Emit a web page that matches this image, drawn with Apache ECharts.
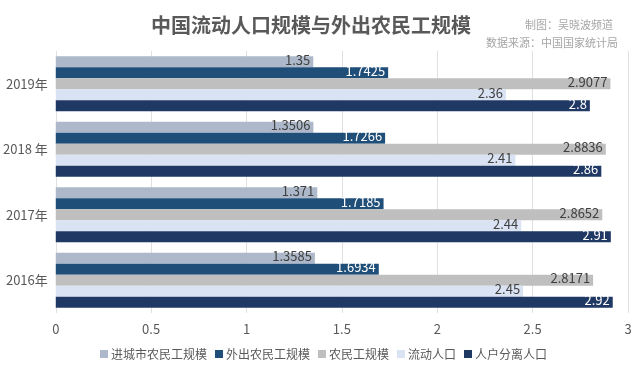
<!DOCTYPE html>
<html>
<head>
<meta charset="utf-8">
<script src="https://cdn.jsdelivr.net/npm/echarts@6/dist/echarts.min.js"></script>
<style>html,body{margin:0;padding:0;background:#fff;}#c{width:640px;height:373px;}</style>
</head>
<body>
<div id="c"></div>
<script>
const categories = ['2016年', '2017年', '2018 年', '2019年'];
const seriesNames = ['进城市农民工规模', '外出农民工规模', '农民工规模', '流动人口', '人户分离人口'];
const urbanMigrant = [1.3585, 1.371, 1.3506, 1.35];
const outMigrant = [1.6934, 1.7185, 1.7266, 1.7425];
const migrantWorkers = [2.8171, 2.8652, 2.8836, 2.9077];
const floatingPop = [2.45, 2.44, 2.41, 2.36];
const separatedPop = [2.92, 2.91, 2.86, 2.8];
const xTicks = [0, 0.5, 1, 1.5, 2, 2.5, 3];

const dataSets = [urbanMigrant, outMigrant, migrantWorkers, floatingPop, separatedPop];
const colors = ['#adb9ca', '#1f4e79', '#bfbfbf', '#dae3f3', '#203864'];
const labelColors = ['#404040', '#ffffff', '#404040', '#404040', '#ffffff'];
const fontFam = '"Noto Sans CJK SC", "Microsoft YaHei", sans-serif';

const chart = echarts.init(document.getElementById('c'), null, {renderer: 'canvas'});
chart.setOption({
  animation: false,
  backgroundColor: '#ffffff',
  textStyle: {fontFamily: fontFam},
  title: [
    {text: '中国流动人口规模与外出农民工规模', left: 306, top: 10, textAlign: 'center',
     textStyle: {fontSize: 20, fontWeight: 'bold', color: '#595959', fontFamily: fontFam}},
    {text: '制图：吴晓波频道', right: 22, top: 14,
     textStyle: {fontSize: 11, fontWeight: 'normal', color: '#a6a6a6', fontFamily: fontFam}},
    {text: '数据来源：中国国家统计局', right: 17, top: 32,
     textStyle: {fontSize: 11, fontWeight: 'normal', color: '#a6a6a6', fontFamily: fontFam}}
  ],
  legend: {
    data: seriesNames,
    bottom: 8,
    left: 95,
    itemWidth: 8, itemHeight: 8, itemGap: 8,
    icon: 'rect',
    textStyle: {fontSize: 12, color: '#595959', fontFamily: fontFam, padding: [0, 0, 0, -2]}
  },
  grid: {left: 54, right: 12, top: 51, bottom: 60, containLabel: false},
  xAxis: {
    type: 'value', min: 0, max: 3, interval: 0.5,
    axisLine: {show: false}, axisTick: {show: false},
    splitLine: {lineStyle: {color: '#e0e0e0', width: 1}},
    axisLabel: {color: '#595959', fontSize: 13, margin: 10,
      formatter: v => (xTicks.indexOf(v) >= 0 ? String(v) : '')}
  },
  yAxis: {
    type: 'category', data: categories,
    axisLine: {show: false}, axisTick: {show: false},
    axisLabel: {color: '#595959', fontSize: 13, margin: 8}
  },
  series: seriesNames.map((name, i) => ({
    name: name, type: 'bar', data: dataSets[i],
    barGap: '0%', barCategoryGap: '16%',
    itemStyle: {color: colors[i]},
    label: {show: true, position: 'insideRight', offset: [2, -2], color: labelColors[i], fontSize: 13,
      fontFamily: fontFam, formatter: p => String(p.value)}
  }))
});
</script>
</body>
</html>
